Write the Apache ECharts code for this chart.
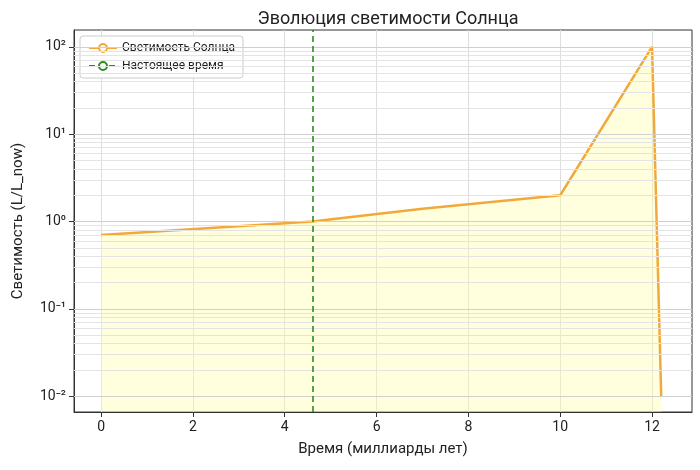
<!DOCTYPE html>
<html><head><meta charset="utf-8">
<script src="https://cdn.jsdelivr.net/npm/echarts@6/dist/echarts.min.js"></script>
<style>html,body{margin:0;background:#fff}#c{width:700px;height:470px}</style>
</head><body><div id="c"></div>
<script>
var timeGyr = [0, 4.6, 7, 10, 12, 12.2];
var luminosity = [0.7, 1.0, 1.4, 2.0, 100, 0.01];
var presentAge = 4.6;
var xTicks = [0, 2, 4, 6, 8, 10, 12];
var yTicks = [0.01, 0.1, 1, 10, 100];
var yTickLabels = ['10⁻²', '10⁻¹', '10⁰', '10¹', '10²'];

var minorValues = [];
[0.001, 0.01, 0.1, 1, 10, 100].forEach(function (d) {
    for (var k = 2; k <= 9; k++) {
        var v = d * k;
        if (v > 0.0066 && v < 156) minorValues.push(v);
    }
});

var chart = echarts.init(document.getElementById('c'));
var font = 'Roboto';
chart.setOption({
    animation: false,
    textStyle: { fontFamily: font },
    title: {
        text: 'Эволюция светимости Солнца', left: 383, top: 5, textAlign: 'center',
        textStyle: { fontSize: 18, fontWeight: 'normal', color: '#222', fontFamily: font }
    },
    grid: { left: 74, right: 8, top: 30, bottom: 58, show: true, borderColor: '#333', borderWidth: 1 },
    legend: {
        left: 80, top: 36, orient: 'vertical', itemGap: 6,
        backgroundColor: 'rgba(255,255,255,0.9)', borderColor: '#ccc', borderWidth: 1, borderRadius: 3,
        padding: [6, 8], itemWidth: 28, itemHeight: 10,
        textStyle: { fontSize: 12, color: '#222' },
        data: ['Светимость Солнца', 'Настоящее время']
    },
    xAxis: {
        type: 'value', min: -0.59, max: 12.87,
        name: 'Время (миллиарды лет)', nameLocation: 'middle', nameGap: 30,
        nameTextStyle: { fontSize: 15, color: '#222' },
        axisLine: { onZero: false, lineStyle: { color: '#333' } },
        axisTick: { show: true, customValues: xTicks, lineStyle: { color: '#333' } },
        axisLabel: { fontSize: 14, color: '#222', customValues: xTicks },
        splitLine: { show: true, lineStyle: { color: '#ddd' } }
    },
    yAxis: {
        type: 'log', min: 0.0066, max: 156,
        name: 'Светимость (L/L_now)', nameLocation: 'middle', nameGap: 48,
        nameTextStyle: { fontSize: 15, color: '#222' },
        axisLine: { show: true, onZero: false, lineStyle: { color: '#333' } },
        axisTick: { show: true, customValues: yTicks, lineStyle: { color: '#333' } },
        axisLabel: {
            fontSize: 14, color: '#222', customValues: yTicks,
            formatter: function (v) {
                var i = yTicks.findIndex(function (t) { return Math.abs(t - v) / t < 1e-6; });
                return i >= 0 ? yTickLabels[i] : '';
            }
        },
        splitLine: { show: false }
    },
    series: [
        {
            name: 'grid', type: 'line', data: [], silent: true,
            markLine: {
                silent: true, symbol: 'none', label: { show: false },
                lineStyle: { color: '#e4e4e4', type: 'solid', width: 1 },
                data: minorValues.map(function (v) { return { yAxis: v }; })
                    .concat(yTicks.map(function (v) { return { yAxis: v, lineStyle: { color: '#d0d0d0' } }; }))
            }
        },
        {
            name: 'Светимость Солнца', type: 'line', showSymbol: false,
            data: timeGyr.map(function (t, i) { return [t, luminosity[i]]; }),
            lineStyle: { color: '#f2a93b', width: 2.5 },
            itemStyle: { color: '#f2a93b' },
            areaStyle: { color: 'rgba(255,255,170,0.55)', origin: 'start' },
            z: 3
        },
        {
            name: 'Настоящее время', type: 'line', data: [], showSymbol: false,
            itemStyle: { color: '#2e8b22' },
            lineStyle: { color: '#2e8b22', type: [6, 4], width: 1.6 },
            markLine: {
                silent: true, symbol: 'none', label: { show: false },
                lineStyle: { color: '#2e8b22', type: [6, 4], width: 1.6 },
                data: [{ xAxis: presentAge }]
            },
            z: 4
        }
    ]
});
</script>
</body></html>
